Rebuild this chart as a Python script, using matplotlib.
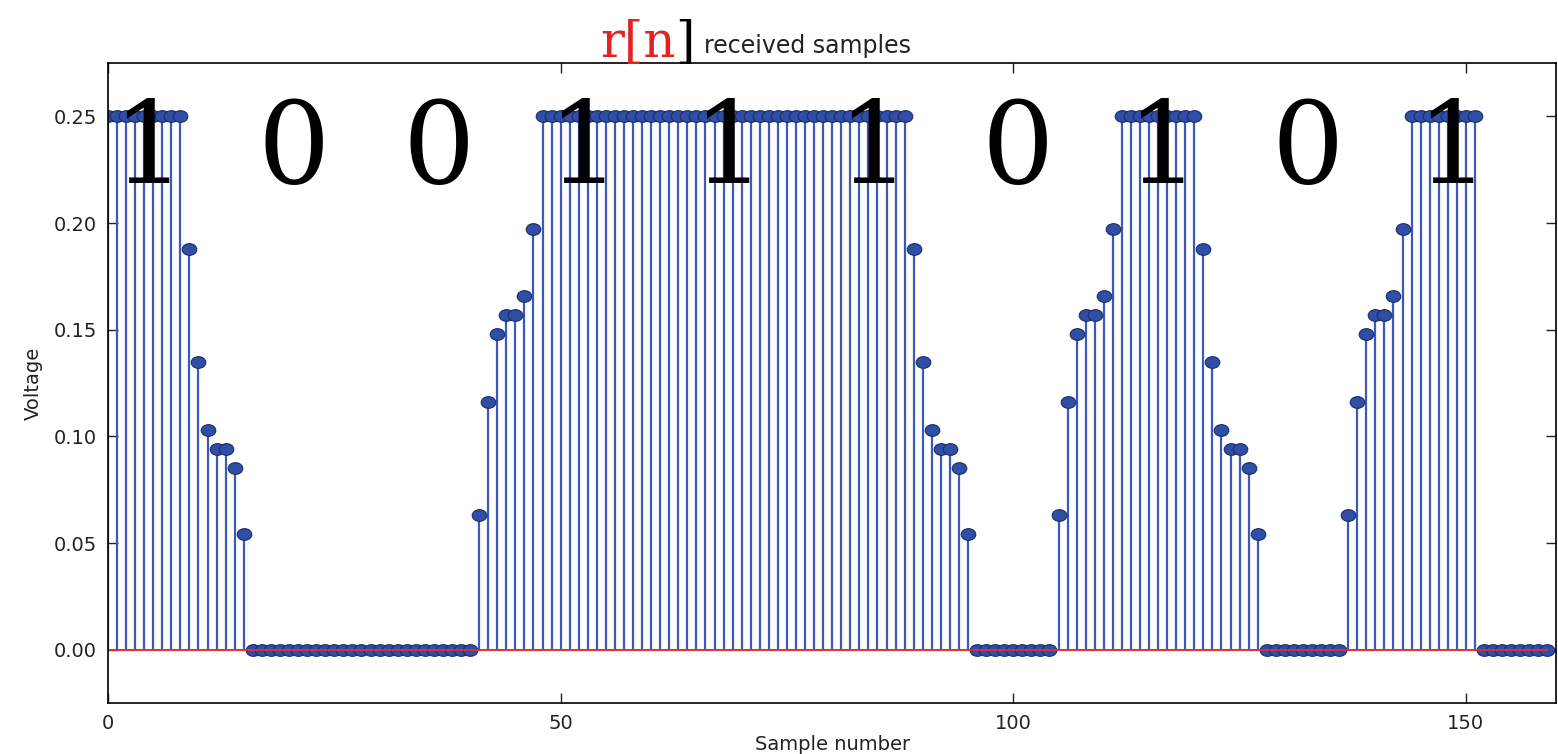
import numpy as np
import matplotlib
matplotlib.use("Agg")
import matplotlib.pyplot as plt
from matplotlib.path import Path
from matplotlib.transforms import Affine2D

# received samples r[n], one row per transmitted bit (16 samples per bit)
r = [
    0.25, 0.25, 0.25, 0.25, 0.25, 0.25, 0.25, 0.25, 0.25, 0.188, 0.135, 0.103, 0.094, 0.094, 0.085, 0.054,
    0, 0, 0, 0, 0, 0, 0, 0, 0, 0, 0, 0, 0, 0, 0, 0,
    0, 0, 0, 0, 0, 0, 0, 0, 0, 0.063, 0.116, 0.148, 0.157, 0.157, 0.166, 0.197,
    0.25, 0.25, 0.25, 0.25, 0.25, 0.25, 0.25, 0.25, 0.25, 0.25, 0.25, 0.25, 0.25, 0.25, 0.25, 0.25,
    0.25, 0.25, 0.25, 0.25, 0.25, 0.25, 0.25, 0.25, 0.25, 0.25, 0.25, 0.25, 0.25, 0.25, 0.25, 0.25,
    0.25, 0.25, 0.25, 0.25, 0.25, 0.25, 0.25, 0.25, 0.25, 0.188, 0.135, 0.103, 0.094, 0.094, 0.085, 0.054,
    0, 0, 0, 0, 0, 0, 0, 0, 0, 0.063, 0.116, 0.148, 0.157, 0.157, 0.166, 0.197,
    0.25, 0.25, 0.25, 0.25, 0.25, 0.25, 0.25, 0.25, 0.25, 0.188, 0.135, 0.103, 0.094, 0.094, 0.085, 0.054,
    0, 0, 0, 0, 0, 0, 0, 0, 0, 0.063, 0.116, 0.148, 0.157, 0.157, 0.166, 0.197,
    0.25, 0.25, 0.25, 0.25, 0.25, 0.25, 0.25, 0.25, 0, 0, 0, 0, 0, 0, 0, 0,
]
bits = ["1", "0", "0", "1", "1", "1", "0", "1", "0", "1"]
samples_per_bit = 16
xticks = [0, 50, 100, 150]
yticks = [0.00, 0.05, 0.10, 0.15, 0.20, 0.25]

n = np.arange(len(r))

fig = plt.figure(figsize=(15.58, 7.54), dpi=100)
ax = fig.add_axes([0.0693, 0.0676, 0.9297, 0.8488])

# the source image is stretched sideways, so the dots are slightly oval
oval = Path.unit_circle().transformed(Affine2D().scale(1.0, 0.8))

markerline, stemlines, baseline = ax.stem(n, r)
plt.setp(stemlines, color="#3c58b8", linewidth=1.6)
plt.setp(markerline, marker=oval, markersize=10.5, markerfacecolor="#2f4ea6",
         markeredgecolor="#1c2c68", markeredgewidth=0.8)
plt.setp(baseline, color="#e03030", linewidth=1.4)

ax.set_xlim(0, 160)
ax.set_ylim(-0.025, 0.275)
ax.set_xticks(xticks)
ax.set_yticks(yticks)
ax.set_yticklabels(["%.2f" % v for v in yticks])
ax.tick_params(direction="in", length=7, width=1, top=True, right=True,
               labelsize=14, colors="#222222", pad=8)
for s in ax.spines.values():
    s.set_linewidth(1.2)

ax.set_xlabel("Sample number", fontsize=14, color="#222222", labelpad=1)
ax.set_ylabel("Voltage", fontsize=14, color="#222222", labelpad=8)

# big bit labels over each 16-sample symbol
for i, b in enumerate(bits):
    ax.text(i * samples_per_bit + 4.5, 0.219, b, fontsize=82, family="DejaVu Serif",
            ha="center", va="baseline", color="black")

# title: red "r[n" + black "]" + "received samples"
fig.canvas.draw()
rend = fig.canvas.get_renderer()
t1 = fig.text(0.385, 0.925, "r[n", fontsize=36, family="DejaVu Serif", color="#e32222",
              ha="left", va="baseline")
x1 = t1.get_window_extent(rend).x1 / fig.bbox.width
t2 = fig.text(x1, 0.925, "]", fontsize=36, family="DejaVu Serif", color="black",
              ha="left", va="baseline")
x2 = t2.get_window_extent(rend).x1 / fig.bbox.width
fig.text(x2 + 0.006, 0.930, "received samples", fontsize=17, color="#222222",
         ha="left", va="baseline")

fig.savefig("out.png", dpi=100)
